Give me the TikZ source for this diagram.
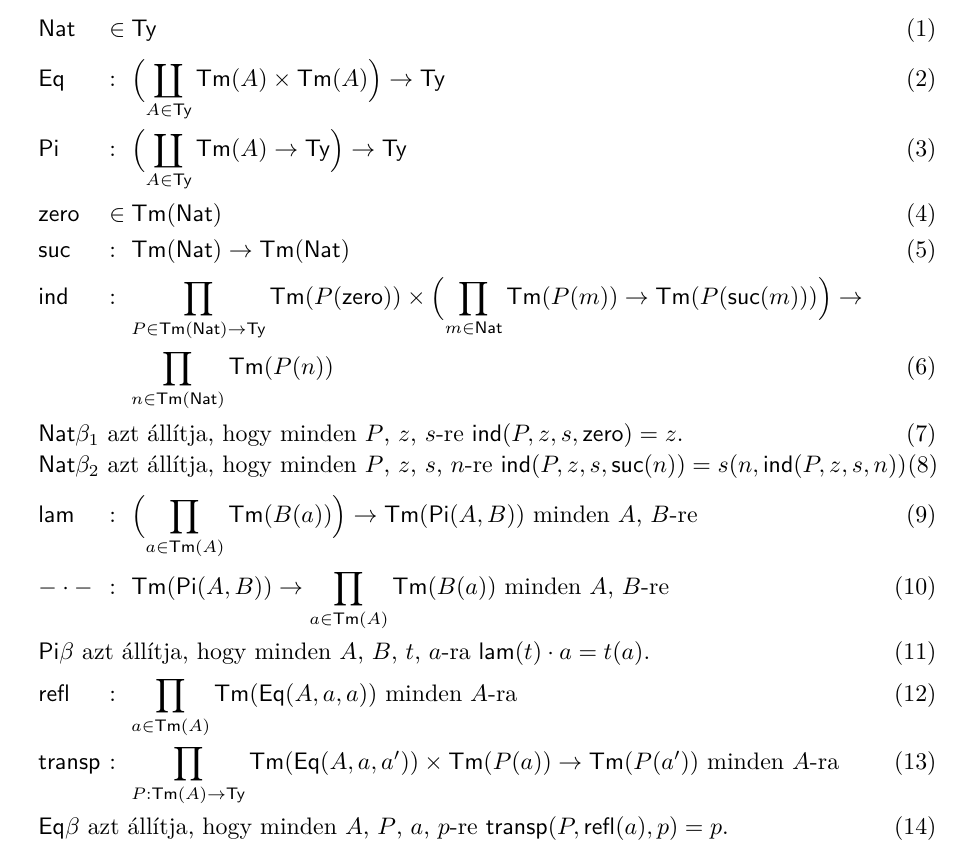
\documentclass[tikz,border=0pt]{standalone}
\usepackage{amsmath}
\newcommand{\sfm}[1]{\mathsf{#1}}
\begin{document}
\begin{tikzpicture}[x=0.419pt,y=-0.419pt,
    lab/.style={anchor=base west,inner sep=0pt},
    eqno/.style={anchor=base east,inner sep=0pt}]
  \useasboundingbox (0,0) rectangle (970,858);
  % names of the constants
  \node[lab] (nat) at (38,37) {$\sfm{Nat}$};
  \node[lab] (eq) at (38,87) {$\sfm{Eq}$};
  \node[lab] (pi) at (38,157) {$\sfm{Pi}$};
  \node[lab] (zero) at (38,222) {$\sfm{zero}$};
  \node[lab] (suc) at (38,258) {$\sfm{suc}$};
  \node[lab] (ind) at (38,305) {$\sfm{ind}$};
  \node[lab] (lam) at (38,523) {$\sfm{lam}$};
  \node[lab] (app) at (38,595) {$-\cdot-$};
  \node[lab] (refl) at (38,702) {$\sfm{refl}$};
  \node[lab] (transp) at (38,770) {$\sfm{transp}$};
  % separators
  \foreach \y/\s/\nm in {37/\in/nat,87/:/eq,157/:/pi,222/\in/zero,258/:/suc,305/:/ind,523/:/lam,595/:/app,702/:/refl,770/:/transp}
    \node[lab] (\nm sep) at (109,\y) {$\s$};
  % types
  \node[lab] (natty) at (131,37) {$\sfm{Ty}$};
  \node[lab] (eqty) at (131,87) {$\displaystyle\Bigl(\coprod_{A\in\sfm{Ty}}\sfm{Tm}(A)\times\sfm{Tm}(A)\Bigr)\to\sfm{Ty}$};
  \node[lab] (pity) at (131,157) {$\displaystyle\Bigl(\coprod_{A\in\sfm{Ty}}\sfm{Tm}(A)\to\sfm{Ty}\Bigr)\to\sfm{Ty}$};
  \node[lab] (zeroty) at (131,222) {$\sfm{Tm}(\sfm{Nat})$};
  \node[lab] (sucty) at (131,258) {$\sfm{Tm}(\sfm{Nat})\to\sfm{Tm}(\sfm{Nat})$};
  \node[lab] (indty) at (131,305) {$\displaystyle\prod_{P\in\sfm{Tm}(\sfm{Nat})\to\sfm{Ty}}\sfm{Tm}(P(\sfm{zero}))\times\Bigl(\prod_{m\in\sfm{Nat}}\sfm{Tm}(P(m))\to\sfm{Tm}(P(\sfm{suc}(m)))\Bigr)\to$};
  \node[lab] (indres) at (131,375) {$\displaystyle\prod_{n\in\sfm{Tm}(\sfm{Nat})}\sfm{Tm}(P(n))$};
  \node[lab] (lamty) at (131,523) {$\displaystyle\Bigl(\prod_{a\in\sfm{Tm}(A)}\sfm{Tm}(B(a))\Bigr)\to\sfm{Tm}(\sfm{Pi}(A,B))$ minden $A$, $B$-re};
  \node[lab] (appty) at (131,595) {$\displaystyle\sfm{Tm}(\sfm{Pi}(A,B))\to\prod_{a\in\sfm{Tm}(A)}\sfm{Tm}(B(a))$ minden $A$, $B$-re};
  \node[lab] (reflty) at (131,702) {$\displaystyle\prod_{a\in\sfm{Tm}(A)}\sfm{Tm}(\sfm{Eq}(A,a,a))$ minden $A$-ra};
  \node[lab] (transpty) at (131,770) {$\displaystyle\prod_{P:\sfm{Tm}(A)\to\sfm{Ty}}\sfm{Tm}(\sfm{Eq}(A,a,a'))\times\sfm{Tm}(P(a))\to\sfm{Tm}(P(a'))$ minden $A$-ra};
  % the rules
  \node[lab] (natb1) at (38,442) {$\sfm{Nat}\beta_1$ azt állítja, hogy minden $P$, $z$, $s$-re $\sfm{ind}(P,z,s,\sfm{zero})=z$.};
  \node[lab] (natb2) at (38,473) {$\sfm{Nat}\beta_2$ azt állítja, hogy minden $P$, $z$, $s$, $n$-re $\sfm{ind}(P,z,s,\sfm{suc}(n))=s(n,\sfm{ind}(P,z,s,n))$};
  \node[lab] (pib) at (38,660) {$\sfm{Pi}\beta$ azt állítja, hogy minden $A$, $B$, $t$, $a$-ra $\sfm{lam}(t)\cdot a=t(a)$.};
  \node[lab] (eqb) at (38,835) {$\sfm{Eq}\beta$ azt állítja, hogy minden $A$, $P$, $a$, $p$-re $\sfm{transp}(P,\sfm{refl}(a),p)=p$.};
  % equation numbers
  \foreach \y/\n in {37/1,87/2,157/3,222/4,258/5,375/6,442/7,523/9,595/10,660/11,702/12,770/13,835/14}
    \node[eqno] (no\n) at (937,\y) {(\n)};
  \node[lab] (no8) at (natb2.base east) {(8)};
\end{tikzpicture}
\end{document}
